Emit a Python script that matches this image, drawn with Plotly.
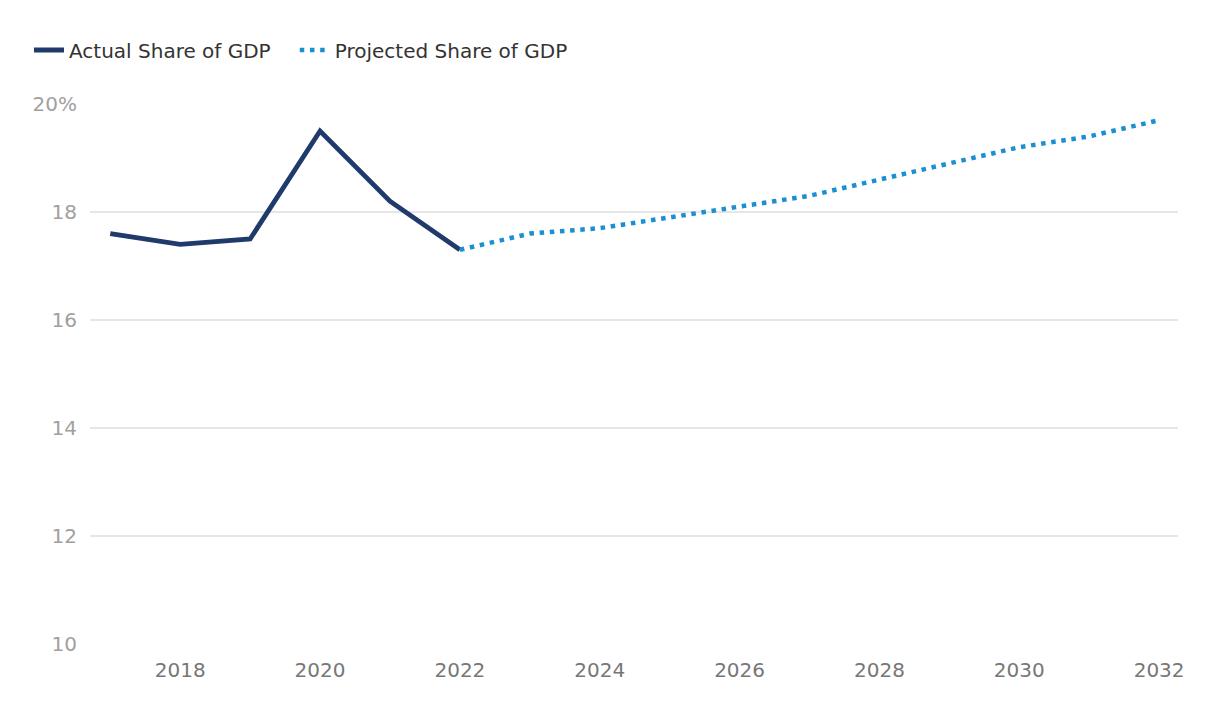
import plotly.graph_objects as go

actual_years = [2017, 2018, 2019, 2020, 2021, 2022]
actual_values = [17.6, 17.4, 17.5, 19.5, 18.2, 17.3]

projected_years = [2022, 2023, 2024, 2025, 2026, 2027, 2028, 2029, 2030, 2031, 2032]
projected_values = [17.3, 17.6, 17.7, 17.9, 18.1, 18.3, 18.6, 18.9, 19.2, 19.4, 19.7]

y_ticks = [10, 12, 14, 16, 18, 20]
y_tick_labels = ["10", "12", "14", "16", "18", "20%"]
x_ticks = [2018, 2020, 2022, 2024, 2026, 2028, 2030, 2032]

FONT = "'DejaVu Sans', 'Noto Sans', sans-serif"
PAD = "\u00a0\u00a0\u00a0"

fig = go.Figure()
fig.add_trace(go.Scatter(
    x=actual_years, y=actual_values, mode="lines", name="Actual Share of GDP" + PAD,
    line=dict(color="#1f3a6b", width=4.8),
))
fig.add_trace(go.Scatter(
    x=projected_years, y=projected_values, mode="lines", name="Projected Share of GDP",
    line=dict(color="#1a8fd2", width=4.5, dash="4.5px,5.7px"),
))

fig.update_layout(
    width=1220, height=714,
    margin=dict(l=90, r=42, t=104, b=70),
    paper_bgcolor="white", plot_bgcolor="white",
    font=dict(family=FONT, size=20, color="#333333"),
    showlegend=True,
    legend=dict(
        orientation="h", xref="container", yref="container",
        x=29 / 1220, y=1 - 50 / 714, xanchor="left", yanchor="middle",
        font=dict(size=20, color="#333333"),
        itemwidth=30, tracegroupgap=0,
    ),
    xaxis=dict(
        range=[2016.71, 2032.27], tickvals=x_ticks, showgrid=False, zeroline=False,
        showline=False, ticks="", tickfont=dict(size=20, color="#777777"),
        ticklabelstandoff=12,
    ),
    yaxis=dict(
        range=[10, 20], tickvals=y_ticks, ticktext=y_tick_labels, showgrid=True,
        gridcolor="#e6e6e6", gridwidth=1.5, zeroline=False, showline=False, ticks="",
        tickfont=dict(size=20, color="#a0a0a0"), ticklabelstandoff=12,
    ),
)

fig.write_html("out.html")
